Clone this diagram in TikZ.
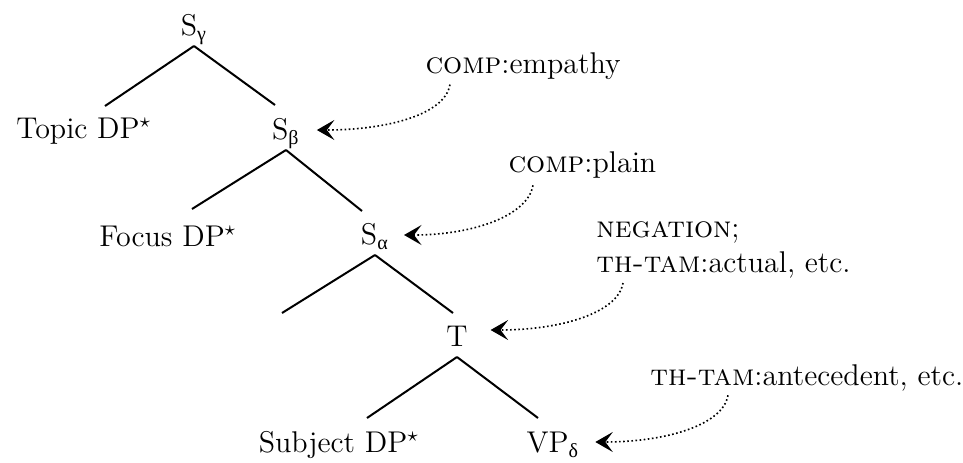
\documentclass[tikz,border=0pt]{standalone}
\usepackage{fontspec}
\newfontfamily\grkfont{Liberation Serif}
\usetikzlibrary{arrows.meta}

\newcommand{\subcat}[2]{#1\textsubscript{\grkfont #2}}

\begin{document}
\begin{tikzpicture}[
    x=0.4pt, y=-0.4pt,
    catnode/.style={inner sep=1pt, text height=9pt, text depth=3pt, font=\large},
    note/.style={inner sep=0pt, font=\large, align=left},
    branch/.style={line width=0.8pt},
    link/.style={densely dotted, line width=0.65pt, -{Stealth[length=7pt, width=8pt, inset=3pt]}}
]
    \useasboundingbox (0,0) rectangle (963,462);

    % tree
    \node [catnode] (Sg) at (194,28) {\subcat{S}{γ}};
    \node [catnode] (Topic) at (84,131) {Topic DP$^\star$};
    \node [catnode] (Sb) at (286,132) {\subcat{S}{β}};
    \node [catnode] (Focus) at (168,239) {Focus DP$^\star$};
    \node [catnode] (Sa) at (375,237) {\subcat{S}{α}};
    \coordinate (Gap) at (282,313);
    \node [catnode] (T) at (457,339) {T};
    \node [catnode] (Subject) at (339,445) {Subject DP$^\star$};
    \node [catnode] (VP) at (553,445) {\subcat{VP}{δ}};

    \draw [branch] (Sg.south) -- ([shift={(21,-7)}]Topic.north);
    \draw [branch] (Sg.south) -- ([shift={(-11,-9)}]Sb.north);
    \draw [branch] (Sb.south) -- ([shift={(24,-12)}]Focus.north);
    \draw [branch] (Sb.south) -- ([shift={(-13,-8)}]Sa.north);
    \draw [branch] (Sa.south) -- (Gap);
    \draw [branch] (Sa.south) -- ([shift={(-4,-8)}]T.north);
    \draw [branch] (T.south) -- ([shift={(28,-9)}]Subject.north);
    \draw [branch] (T.south) -- ([shift={(-15,-9)}]VP.north);

    % features
    \node [note, anchor=base west] (cEmp) at (425,73) {\textsc{comp}:empathy};
    \node [note, anchor=base west] (cPlain) at (508,172) {\textsc{comp}:plain};
    \node [note, anchor=south west] (cNeg) at (596,279) {\textsc{negation};\\\textsc{th-tam}:actual, etc.};
    \node [note, anchor=base west] (cAnt) at (650,385) {\textsc{th-tam}:antecedent, etc.};

    \draw [link] ([shift={(25,5)}]cEmp.south west) .. controls +(-5,30) and +(70,0) .. ([shift={(14,-2)}]Sb.east);
    \draw [link] ([shift={(25,7)}]cPlain.south west) .. controls +(-5,30) and +(70,0) .. ([shift={(12,-2)}]Sa.east);
    \draw [link] ([shift={(27,4)}]cNeg.south west) .. controls +(-5,30) and +(70,0) .. ([shift={(20,-9)}]T.east);
    \draw [link] ([shift={(78,4)}]cAnt.south west) .. controls +(-5,30) and +(70,0) .. ([shift={(13,-3)}]VP.east);
\end{tikzpicture}
\end{document}
